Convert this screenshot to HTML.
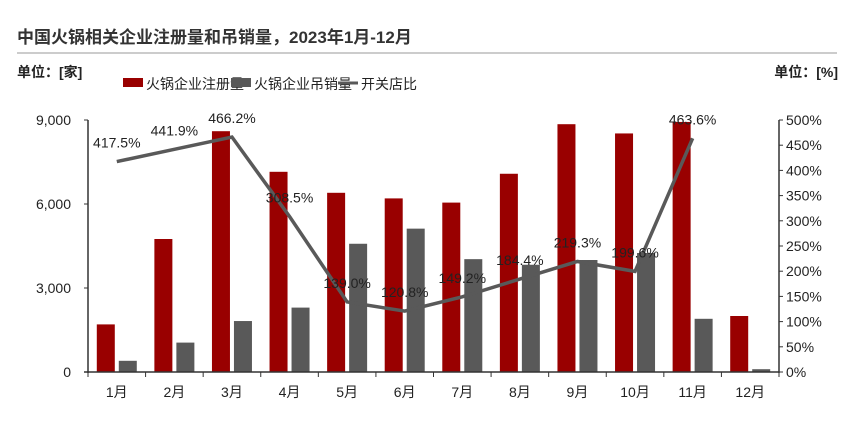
<!DOCTYPE html>
<html><head><meta charset="utf-8"><style>
body{margin:0;background:#fff;font-family:"Liberation Sans","Noto Sans CJK SC",sans-serif;}
svg text{font-family:"Liberation Sans","Noto Sans CJK SC",sans-serif;}
</style></head><body>
<svg id="c" width="863" height="426" xmlns="http://www.w3.org/2000/svg">
<text x="17" y="43" font-size="17" font-weight="bold" fill="#333">中国火锅相关企业注册量和吊销量，2023年1月-12月</text>
<line x1="17" y1="53" x2="837" y2="53" stroke="#ccc" stroke-width="2"/>
<text x="17" y="77" font-size="14" font-weight="bold" fill="#222">单位：[家]</text>
<text x="838" y="77" font-size="14" font-weight="bold" fill="#222" text-anchor="end">单位：[%]</text>
<g>
<rect x="123" y="78" width="20" height="9" fill="#990000"/>
<text x="146" y="89" font-size="14" fill="#222">火锅企业注册量</text>
<rect x="231" y="78" width="20" height="9" fill="#595959"/>
<text x="254" y="89" font-size="14" fill="#222">火锅企业吊销量</text>
<line x1="338" y1="83" x2="358" y2="83" stroke="#595959" stroke-width="3"/>
<text x="361" y="89" font-size="14" fill="#222">开关店比</text>
</g>
<g id="plot"></g>
</svg>
<script>
const categories=["1月","2月","3月","4月","5月","6月","7月","8月","9月","10月","11月","12月"];
const registrations=[1700,4750,8600,7150,6400,6200,6050,7080,8850,8520,8930,2000];
const revocations=[400,1050,1820,2300,4580,5120,4030,3830,4000,4250,1900,100];
const ratio=[417.5,441.9,466.2,308.5,139.0,120.8,149.2,184.4,219.3,199.6,463.6,null];
const leftTicks=[0,3000,6000,9000];
const rightTicks=[0,50,100,150,200,250,300,350,400,450,500];
const NS="http://www.w3.org/2000/svg";
const g=document.getElementById('plot');
const X0=88,X1=779,Y0=372,Y1=120;
const bw=(X1-X0)/categories.length;
const yL=v=>Y0-(v/9000)*(Y0-Y1);
const yR=v=>Y0-(v/500)*(Y0-Y1);
const xC=i=>X0+bw*(i+0.5);
function el(t,a){const e=document.createElementNS(NS,t);for(const k in a)e.setAttribute(k,a[k]);g.appendChild(e);return e;}
// bars
registrations.forEach((v,i)=>{const e=el('rect',{x:xC(i)-20,y:yL(v),width:18,height:Y0-yL(v),fill:'#990000'});

});
revocations.forEach((v,i)=>{const e=el('rect',{x:xC(i)+2,y:yL(v),width:18,height:Y0-yL(v),fill:'#595959'});

});
// axes
let a=el('line',{x1:X0,y1:Y1,x2:X0,y2:Y0+1,stroke:'#333','stroke-width':1.5});


a=el('line',{x1:X1,y1:Y1,x2:X1,y2:Y0+1,stroke:'#333','stroke-width':1.5});


a=el('line',{x1:X0-4,y1:Y0,x2:X1,y2:Y0,stroke:'#333','stroke-width':1.5});


leftTicks.forEach(v=>{el('line',{x1:X0-4,y1:yL(v),x2:X0,y2:yL(v),stroke:'#333'});
const t=el('text',{x:X0-17,y:yL(v)+5,'font-size':14,fill:'#222','text-anchor':'end'});t.textContent=v.toLocaleString('en-US');

});
rightTicks.forEach(v=>{el('line',{x1:X1,y1:yR(v),x2:X1+4,y2:yR(v),stroke:'#333'});
const t=el('text',{x:X1+7,y:yR(v)+5,'font-size':14,fill:'#222'});t.textContent=v+'%';

});
categories.forEach((c,i)=>{el('line',{x1:X0+bw*i,y1:Y0,x2:X0+bw*i,y2:Y0+5,stroke:'#333'});
const t=el('text',{x:xC(i),y:Y0+25,'font-size':14,fill:'#222','text-anchor':'middle'});t.textContent=c;

});
el('line',{x1:X1,y1:Y0,x2:X1,y2:Y0+5,stroke:'#333'});
// line
const pts=ratio.map((v,i)=>v==null?null:[xC(i),yR(v)]).filter(p=>p);
const pl=el('polyline',{points:pts.map(p=>p.join(',')).join(' '),fill:'none',stroke:'#595959','stroke-width':3.5});


ratio.forEach((v,i)=>{if(v==null)return;
const t=el('text',{x:xC(i),y:yR(v)-14,'font-size':14,fill:'#222','text-anchor':'middle'});t.textContent=v.toFixed(1)+'%';

});
</script>
</body></html>
